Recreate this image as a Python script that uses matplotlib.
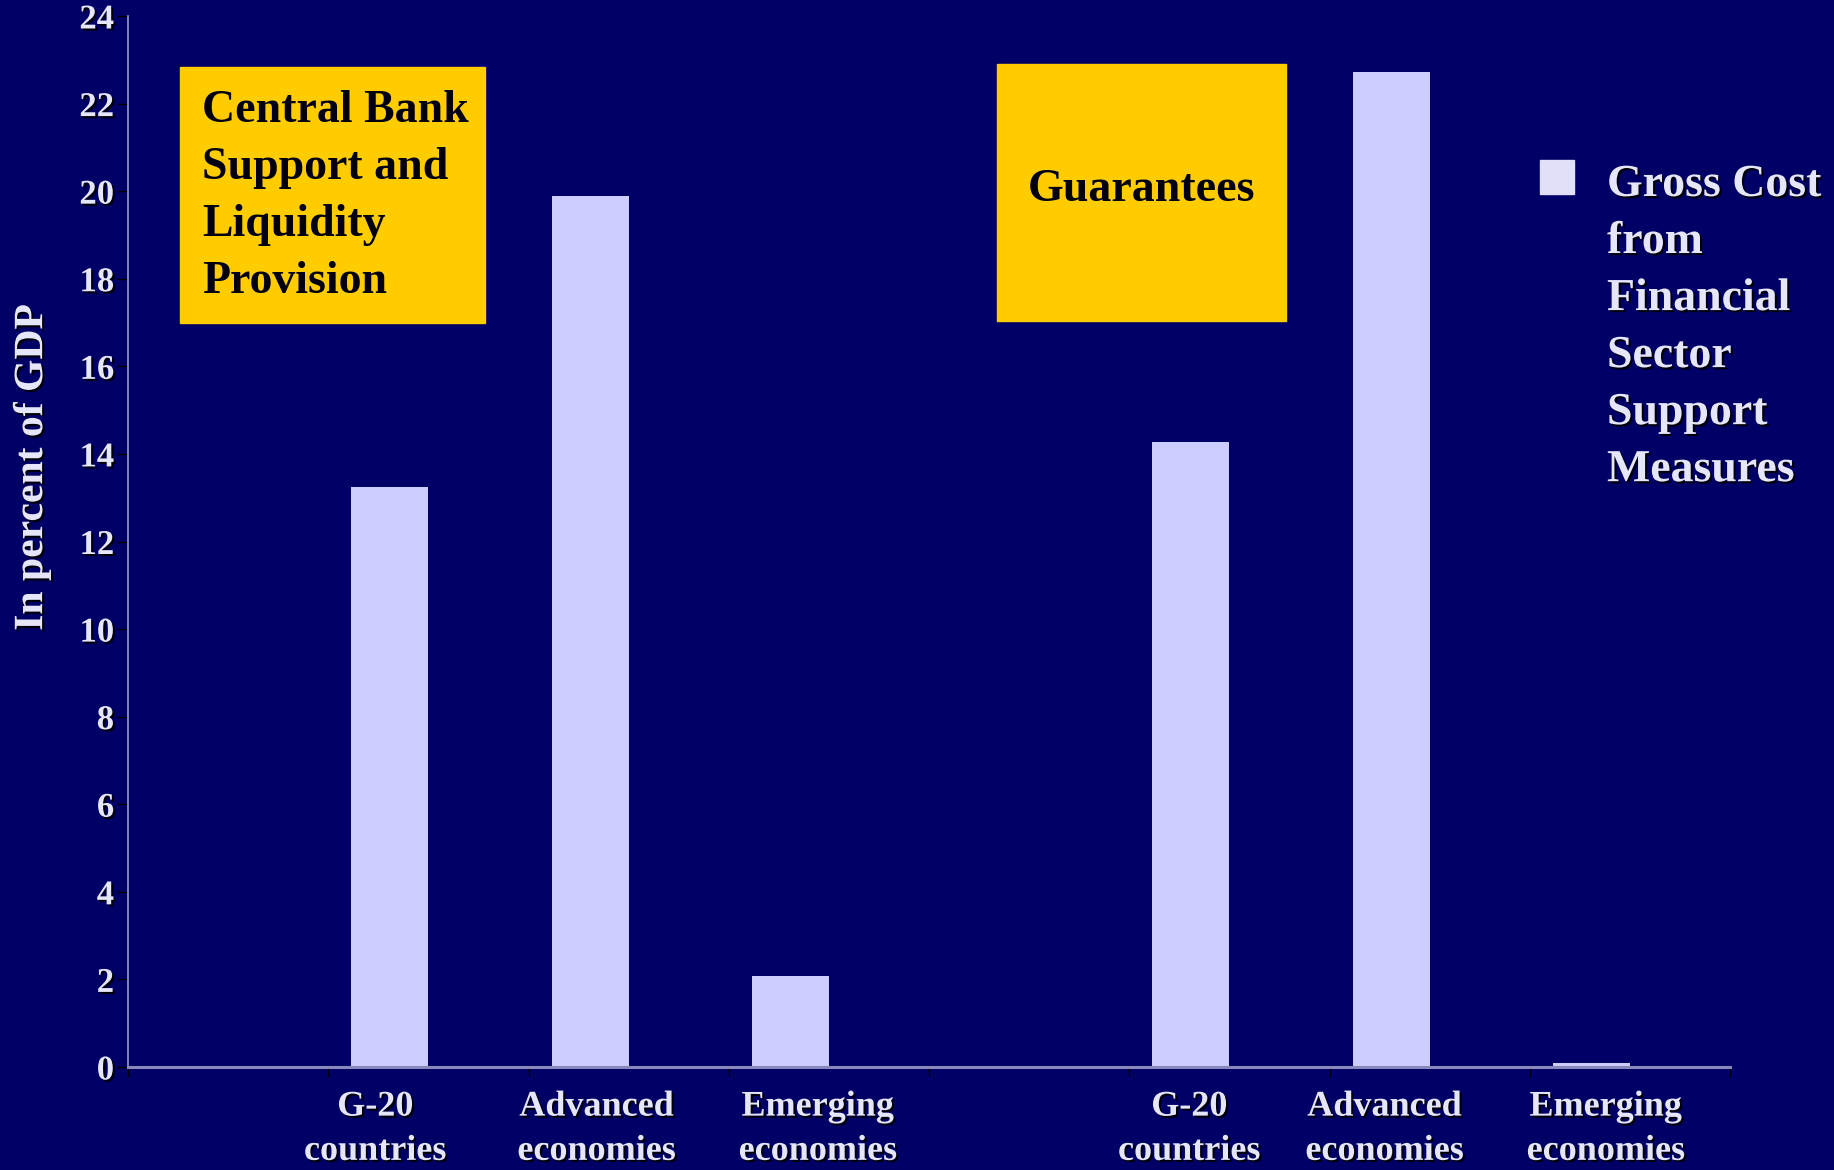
import matplotlib
matplotlib.use('Agg')
import matplotlib.pyplot as plt
import matplotlib.patheffects as pe
from matplotlib.patches import Rectangle

# data
slots = [0, 1, 2, 3, 4, 5, 6, 7]
gross_cost = [0, 13.24, 19.88, 2.08, 0, 14.27, 22.72, 0.1]
x_labels = ['G-20\ncountries', 'Advanced\neconomies', 'Emerging\neconomies',
            'G-20\ncountries', 'Advanced\neconomies', 'Emerging\neconomies']
label_pos = [1.235, 2.34, 3.445, 5.30, 6.275, 7.38]
y_ticks = list(range(0, 25, 2))
legend_label = 'Gross Cost\nfrom\nFinancial\nSector\nSupport\nMeasures'

navy = '#000066'
lavender = '#CCCCFF'
light = '#E6E6FA'
yellow = '#FFCC00'
W, H = 1834, 1170

plt.rcParams['font.family'] = ['Liberation Serif', 'DejaVu Serif']
plt.rcParams['font.weight'] = 'bold'

shadow = [pe.SimplePatchShadow(offset=(1.5, -1.5), shadow_rgbFace='black', alpha=0.9), pe.Normal()]

fig = plt.figure(figsize=(W / 100, H / 100), dpi=100, facecolor=navy)
ax = fig.add_axes([128 / W, 1 - 1067 / H, (1730 - 128) / W, (1067 - 16) / H])
ax.set_facecolor(navy)

ax.bar([s + 0.115 for s in slots], gross_cost, width=0.385, align='edge', color=lavender,
       zorder=2, label=legend_label)

ax.set_xlim(0, 8)
ax.set_ylim(0, 24)
ax.set_yticks(y_ticks)
ax.set_xticks(label_pos)
ax.set_xticklabels(x_labels, fontsize=26, color=light, linespacing=1.45)
ax.set_xticks(range(0, 9), minor=True)
ax.tick_params(axis='x', which='major', length=0, pad=17)
ax.tick_params(axis='x', which='minor', length=7, width=1, color='black', direction='out')
ax.tick_params(axis='y', length=8, width=1, color='black', pad=2, labelsize=25, labelcolor=light)
for t in ax.get_xticklabels() + ax.get_yticklabels():
    t.set_path_effects(shadow)

for side in ['top', 'right']:
    ax.spines[side].set_visible(False)
ax.spines['left'].set_color('#9999CC')
ax.spines['left'].set_linewidth(1.2)
ax.spines['bottom'].set_color('#8888BB')
ax.spines['bottom'].set_linewidth(2.2)
ax.spines['bottom'].set_zorder(3)

ax.set_ylabel('In percent of GDP', fontsize=30, fontweight='bold', color=light, path_effects=shadow)
ax.yaxis.set_label_coords(-0.048, 0.57)

# yellow boxes
fig.patches.append(Rectangle((180 / W, 1 - 323 / H), (485 - 180) / W, (323 - 67) / H,
                             transform=fig.transFigure, color=yellow, zorder=5))
fig.patches.append(Rectangle((997 / W, 1 - 321 / H), (1286 - 997) / W, (321 - 64) / H,
                             transform=fig.transFigure, color=yellow, zorder=5))
fig.text(202 / W, 1 - 90 / H, 'Central Bank\nSupport and\nLiquidity\nProvision', fontsize=33,
         color='#000011', va='top', ha='left', linespacing=1.47, zorder=6)
fig.text(1141 / W, 1 - 190 / H, 'Guarantees', fontsize=33, color='#000011',
         va='center', ha='center', zorder=6)

# legend
fig.patches.append(Rectangle((1540 / W, 1 - 194 / H), 34 / W, 34 / H,
                             transform=fig.transFigure, color='#E0E0FA', zorder=5))
fig.text(1607 / W, 1 - 164 / H, legend_label, fontsize=33, color=light, va='top',
         ha='left', linespacing=1.47, path_effects=shadow, zorder=6)

fig.savefig('out.png', dpi=100, facecolor=navy)
